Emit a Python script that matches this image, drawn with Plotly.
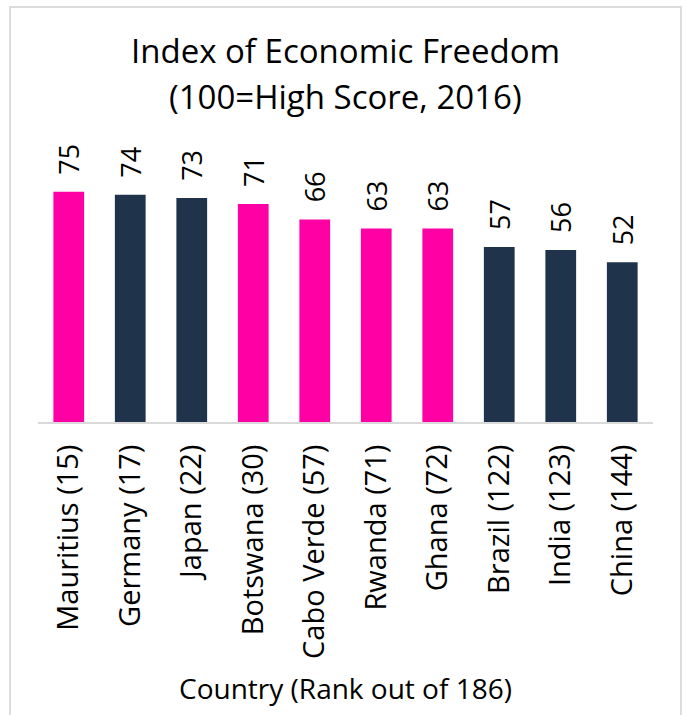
import plotly.graph_objects as go

countries = ["Mauritius (15)", "Germany (17)", "Japan (22)", "Botswana (30)", "Cabo Verde (57)",
             "Rwanda (71)", "Ghana (72)", "Brazil (122)", "India (123)", "China (144)"]
scores = [75, 74, 73, 71, 66, 63, 63, 57, 56, 52]
is_africa = [True, False, False, True, True, True, True, False, False, False]
title_lines = ["Index of Economic Freedom", "(100=High Score, 2016)"]
x_title = "Country (Rank out of 186)"

PINK = "#FF00A5"
NAVY = "#1F344B"
colors = [PINK if a else NAVY for a in is_africa]

FONT = "Open Sans"
NB = "\u00a0"

fig = go.Figure(go.Bar(
    x=countries, y=scores, marker=dict(color=colors, line=dict(width=0)),
    text=[NB * 2 + str(s) for s in scores], textposition="outside", textangle=-90,
    textfont=dict(family=FONT, size=27, color="#000000"),
    constraintext="none",
    cliponaxis=False, width=0.5,
))

L, R, T, B = 38, 33, 115, 293
W, H = 686, 715
pw, ph = W - L - R, H - T - B

def px_x(x):
    return (x - L) / pw

def px_y(y):
    return (H - B - y) / ph

annotations = [
    dict(text=title_lines[0], xref="paper", yref="paper", x=px_x(345), y=px_y(51),
         xanchor="center", yanchor="middle", showarrow=False,
         font=dict(family=FONT, size=33, color="#000000")),
    dict(text=title_lines[1], xref="paper", yref="paper", x=px_x(345), y=px_y(96),
         xanchor="center", yanchor="middle", showarrow=False,
         font=dict(family=FONT, size=33, color="#000000")),
]

fig.update_layout(
    width=W, height=H,
    margin=dict(l=L, r=R, t=T, b=B, autoexpand=False),
    paper_bgcolor="white", plot_bgcolor="white",
    showlegend=False,
    font=dict(family=FONT, color="#000000"),
    xaxis=dict(
        automargin=False,
        tickangle=-90, tickfont=dict(family=FONT, size=29, color="#000000"),
        showline=True, linecolor="#D9D9D9", linewidth=2, ticks="",
        ticklabelstandoff=9,
        title=dict(text=x_title, font=dict(family=FONT, size=28, color="#000000"),
                   standoff=21),
    ),
    yaxis=dict(range=[0, 100], visible=False, automargin=False),
    annotations=annotations,
    shapes=[dict(type="rect", xref="paper", yref="paper",
                 x0=px_x(10), x1=px_x(681), y0=px_y(730), y1=px_y(7),
                 line=dict(color="#DCDCDC", width=2), fillcolor="rgba(0,0,0,0)", layer="below")],
)

fig.write_html("out.html", config={"displayModeBar": False},
               post_script="document.body.style.margin='0';document.body.style.overflow='hidden';")
